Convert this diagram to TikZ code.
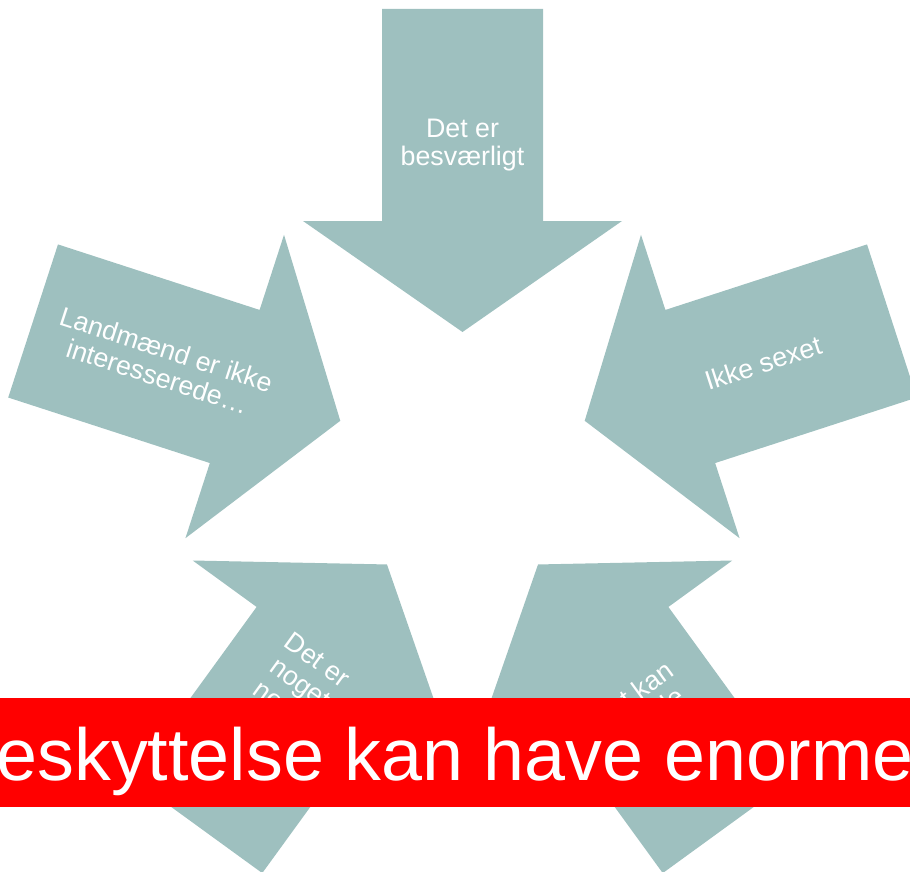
\documentclass[tikz,border=0pt]{standalone}
\usepackage{fontspec}
\setmainfont{Liberation Sans}
\usetikzlibrary{calc}

\definecolor{arrowteal}{RGB}{158,192,191}
\definecolor{bannerred}{RGB}{255,0,0}

\begin{document}
\begin{tikzpicture}[
  x=0.5pt, y=-0.5pt,
  chevron/.style={fill=arrowteal, draw=none},
  arrowlabel/.style={text=white, align=center, inner sep=0pt,
    font=\fontsize{13.4}{14.2}\selectfont},
  bannertext/.style={text=white, inner sep=0pt,
    font=\fontsize{36.85}{40}\selectfont}
]
\useasboundingbox (0,0) rectangle (910,872);
\clip (0,0) rectangle (910,872);

% ---------------- Five arrows pointing to the centre ----------------
\coordinate (C) at (462.5,460.5); % common centre

% angle of arrow / angle of text / label height / text
\foreach \ang/\tang/\ly/\txt [count=\i] in {
    0/0/145/{Det er\\besværligt},
    -72/18/144.5/{Ikke sexet},
    72/-18/144.5/{Landmænd er ikke\\interesserede…},
    144/-36/183/{Det er\\noget\\noget},
    -144/36/155/{Det kan\\betyde}} {
  \begin{scope}[rotate around={\ang:(C)}]
    \fill[chevron] (382,9) -- (543,9) -- (543,221) -- (622,221)
      -- (462.5,332) -- (303,221) -- (382,221) -- cycle;
    \node[arrowlabel, rotate=\tang] (lbl\i) at (462.5,\ly) {\txt};
  \end{scope}
}

% ---------------- Red banner ----------------
\fill[bannerred] (0,698) rectangle (910,807);
\node[bannertext, anchor=base west] (banner) at (-4,780) {eskyttelse kan have enorme};

\end{tikzpicture}
\end{document}
